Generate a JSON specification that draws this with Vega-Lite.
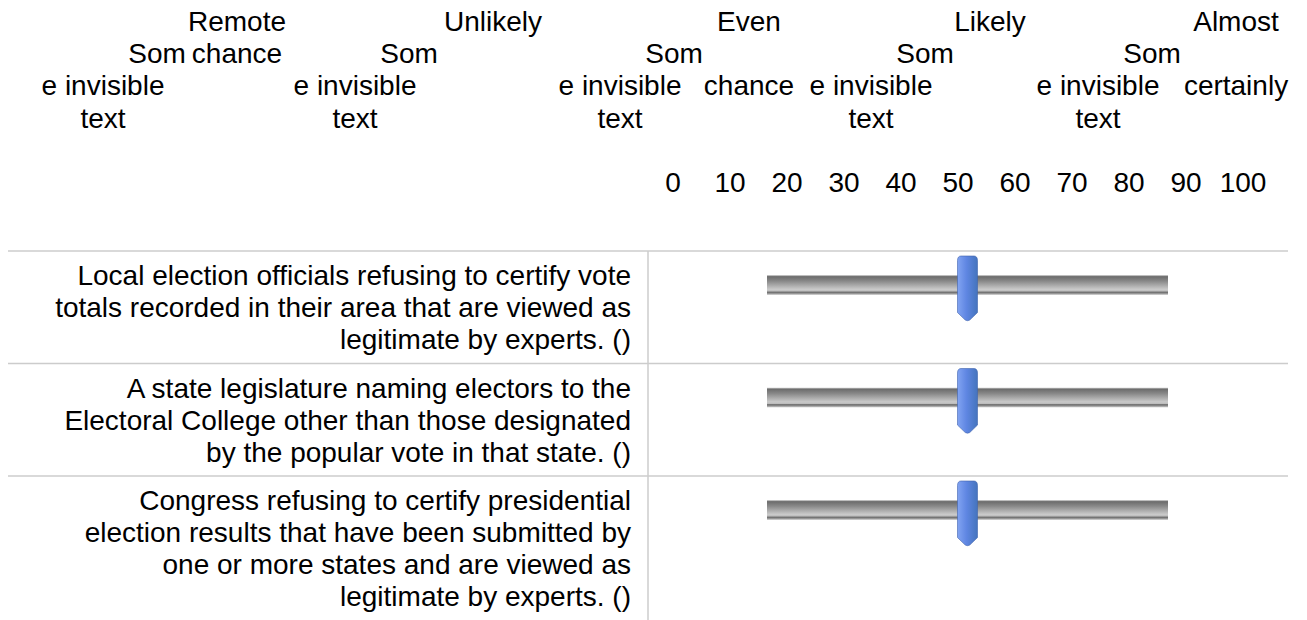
{
  "$schema": "https://vega.github.io/schema/vega-lite/v6.json",
  "width": 1307,
  "height": 620,
  "padding": 0,
  "autosize": {"type": "none"},
  "background": "#ffffff",
  "config": {
    "view": {"stroke": null},
    "text": {"font": "Liberation Sans", "fontSize": 28, "color": "#000000"}
  },
  "datasets": {
    "header": [
      {"col": 1, "line": 1, "text": "Remote"},
      {"col": 1, "line": 2, "text": "chance"},
      {"col": 2, "line": 1, "text": "Unlikely"},
      {"col": 3, "line": 1, "text": "Even"},
      {"col": 3, "line": 3, "text": "chance"},
      {"col": 4, "line": 1, "text": "Likely"},
      {"col": 5, "line": 1, "text": "Almost"},
      {"col": 5, "line": 3, "text": "certainly"}
    ],
    "hidden": [
      {"col": 1, "line": 2, "text": "Som"},
      {"col": 1, "line": 3, "text": "e invisible"},
      {"col": 1, "line": 4, "text": "text"},
      {"col": 2, "line": 2, "text": "Som"},
      {"col": 2, "line": 3, "text": "e invisible"},
      {"col": 2, "line": 4, "text": "text"},
      {"col": 3, "line": 2, "text": "Som"},
      {"col": 3, "line": 3, "text": "e invisible"},
      {"col": 3, "line": 4, "text": "text"},
      {"col": 4, "line": 2, "text": "Som"},
      {"col": 4, "line": 3, "text": "e invisible"},
      {"col": 4, "line": 4, "text": "text"},
      {"col": 5, "line": 2, "text": "Som"},
      {"col": 5, "line": 3, "text": "e invisible"},
      {"col": 5, "line": 4, "text": "text"}
    ],
    "ticks": [
      {"tick": 0}, {"tick": 10}, {"tick": 20}, {"tick": 30}, {"tick": 40}, {"tick": 50},
      {"tick": 60}, {"tick": 70}, {"tick": 80}, {"tick": 90}, {"tick": 100}
    ],
    "statements": [
      {"q": 1, "statement": "Local election officials refusing to certify vote\ntotals recorded in their area that are viewed as\nlegitimate by experts. ()", "value": 50},
      {"q": 2, "statement": "A state legislature naming electors to the\nElectoral College other than those designated\nby the popular vote in that state. ()", "value": 50},
      {"q": 3, "statement": "Congress refusing to certify presidential\nelection results that have been submitted by\none or more states and are viewed as\nlegitimate by experts. ()", "value": 50}
    ]
  },
  "resolve": {"scale": {"x": "independent", "y": "independent"}},
  "layer": [
    {
      "data": {"name": "header"},
      "mark": {"type": "text", "align": "center", "baseline": "alphabetic"},
      "encoding": {
        "x": {"field": "col", "type": "quantitative", "axis": null,
              "scale": {"domain": [1, 2, 3, 4, 5], "range": [237, 493, 749, 990, 1236], "zero": false, "nice": false}},
        "y": {"field": "line", "type": "quantitative", "axis": null,
              "scale": {"domain": [1, 4], "range": [30.5, 127.5], "zero": false, "nice": false}},
        "text": {"field": "text"}
      }
    },
    {
      "data": {"name": "hidden"},
      "transform": [{"filter": "datum.line == 2"}],
      "mark": {"type": "text", "align": "center", "baseline": "alphabetic", "dx": 54},
      "encoding": {
        "x": {"field": "col", "type": "quantitative", "axis": null,
              "scale": {"domain": [1, 2, 3, 4, 5], "range": [103, 355, 620, 871, 1098], "zero": false, "nice": false}},
        "y": {"field": "line", "type": "quantitative", "axis": null,
              "scale": {"domain": [1, 4], "range": [30.5, 127.5], "zero": false, "nice": false}},
        "text": {"field": "text"}
      }
    },
    {
      "data": {"name": "hidden"},
      "transform": [{"filter": "datum.line > 2"}],
      "mark": {"type": "text", "align": "center", "baseline": "alphabetic"},
      "encoding": {
        "x": {"field": "col", "type": "quantitative", "axis": null,
              "scale": {"domain": [1, 2, 3, 4, 5], "range": [103, 355, 620, 871, 1098], "zero": false, "nice": false}},
        "y": {"field": "line", "type": "quantitative", "axis": null,
              "scale": {"domain": [1, 4], "range": [30.5, 127.5], "zero": false, "nice": false}},
        "text": {"field": "text"}
      }
    },
    {
      "data": {"name": "ticks"},
      "mark": {"type": "text", "align": "center", "baseline": "alphabetic"},
      "encoding": {
        "x": {"field": "tick", "type": "quantitative", "axis": null,
              "scale": {"domain": [0, 100], "range": [673, 1243], "zero": false, "nice": false}},
        "y": {"datum": 6, "type": "quantitative", "axis": null,
              "scale": {"domain": [1, 4], "range": [30.5, 127.5], "zero": false, "nice": false}},
        "text": {"field": "tick", "type": "quantitative"}
      }
    },
    {
      "data": {"name": "statements"},
      "mark": {"type": "rule", "color": "#cccccc", "strokeWidth": 1.5, "yOffset": -34},
      "encoding": {
        "y": {"field": "q", "type": "ordinal", "axis": null,
              "scale": {"type": "point", "domain": [1, 2, 3], "range": [285, 510], "padding": 0}},
        "x": {"datum": 0, "type": "quantitative", "axis": null,
              "scale": {"domain": [0, 1], "range": [8, 1288], "zero": false, "nice": false}},
        "x2": {"datum": 1}
      }
    },
    {
      "data": {"values": [{}]},
      "mark": {"type": "rule", "color": "#cccccc", "strokeWidth": 1.5},
      "encoding": {
        "x": {"datum": 0.5, "type": "quantitative", "axis": null,
              "scale": {"domain": [0, 1], "range": [8, 1288], "zero": false, "nice": false}},
        "y": {"datum": 0, "type": "quantitative", "axis": null,
              "scale": {"domain": [0, 1], "range": [251, 620], "zero": false, "nice": false}},
        "y2": {"datum": 1}
      }
    },
    {
      "data": {"name": "statements"},
      "mark": {"type": "text", "align": "right", "baseline": "alphabetic", "lineBreak": "\n", "lineHeight": 32, "dx": -17},
      "encoding": {
        "x": {"datum": 0.5, "type": "quantitative", "axis": null,
              "scale": {"domain": [0, 1], "range": [8, 1288], "zero": false, "nice": false}},
        "y": {"field": "q", "type": "ordinal", "axis": null,
              "scale": {"type": "point", "domain": [1, 2, 3], "range": [285, 510], "padding": 0}},
        "text": {"field": "statement"}
      }
    },
    {
      "data": {"name": "statements"},
      "mark": {
        "type": "bar", "size": 20, "stroke": null,
        "fill": {"gradient": "linear", "x1": 0, "y1": 0, "x2": 0, "y2": 1,
                 "stops": [
                   {"offset": 0, "color": "#e2e2e2"},
                   {"offset": 0.08, "color": "#6c6c6c"},
                   {"offset": 0.3, "color": "#888888"},
                   {"offset": 0.72, "color": "#cacaca"},
                   {"offset": 0.8, "color": "#bdbdbd"},
                   {"offset": 0.86, "color": "#6a6a6a"},
                   {"offset": 0.93, "color": "#999999"},
                   {"offset": 1, "color": "#dedede"}
                 ]}
      },
      "encoding": {
        "x": {"datum": 0, "type": "quantitative", "axis": null,
              "scale": {"domain": [0, 100], "range": [767, 1168], "zero": false, "nice": false}},
        "x2": {"datum": 100},
        "y": {"field": "q", "type": "ordinal", "axis": null,
              "scale": {"type": "point", "domain": [1, 2, 3], "range": [285, 510], "padding": 0}}
      }
    },
    {
      "data": {"name": "statements"},
      "mark": {
        "type": "point", "filled": true, "opacity": 1, "size": 4225, "yOffset": 3.5,
        "shape": "M-0.3077,-0.86 C-0.3077,-0.96 -0.26,-1 -0.2,-1 L0.2,-1 C0.26,-1 0.3077,-0.96 0.3077,-0.86 L0.3077,0.74 L0.07,0.97 Q0,1.01 -0.07,0.97 L-0.3077,0.74 Z",
        "fill": {"gradient": "linear", "x1": 0, "y1": 0, "x2": 1, "y2": 0,
                 "stops": [
                   {"offset": 0, "color": "#82a4f2"},
                   {"offset": 0.45, "color": "#5f86e2"},
                   {"offset": 1, "color": "#4474bd"}
                 ]},
        "stroke": "#3f63ad", "strokeWidth": 0.6
      },
      "encoding": {
        "x": {"field": "value", "type": "quantitative", "axis": null,
              "scale": {"domain": [0, 100], "range": [767, 1168], "zero": false, "nice": false}},
        "y": {"field": "q", "type": "ordinal", "axis": null,
              "scale": {"type": "point", "domain": [1, 2, 3], "range": [285, 510], "padding": 0}}
      }
    }
  ]
}
